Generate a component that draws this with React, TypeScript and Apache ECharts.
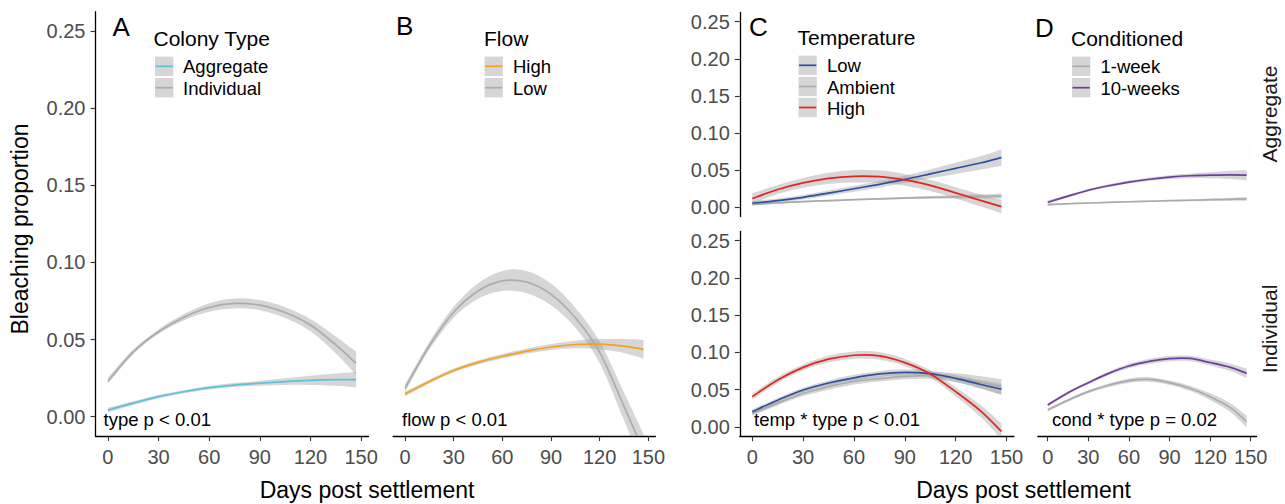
import React, { useEffect, useRef } from 'react';
import * as echarts from 'echarts';

const days = [0, 15, 30, 45, 60, 75, 90, 105, 120, 135, 147];
const xTicks = [0, 30, 60, 90, 120, 150];
const yTicks = [0, 0.05, 0.1, 0.15, 0.2, 0.25];

// Panel A: colony type
const aAggregate = [0.0043, 0.0088, 0.013, 0.0162, 0.0188, 0.0205, 0.0217, 0.0228, 0.0236, 0.024, 0.024];
const aAggregateSe = [0.0015, 0.0012, 0.001, 0.001, 0.0011, 0.0013, 0.0016, 0.0022, 0.003, 0.004, 0.005];
const aIndividual = [0.0231, 0.042, 0.0551, 0.0645, 0.0708, 0.0734, 0.0723, 0.0675, 0.0594, 0.0465, 0.0346];
const aIndividualSe = [0.002, 0.0015, 0.0015, 0.002, 0.0028, 0.0032, 0.0033, 0.0035, 0.004, 0.0055, 0.0075];

// Panel B: flow
const bHigh = [0.0147, 0.0228, 0.03, 0.0352, 0.0392, 0.0425, 0.0452, 0.0468, 0.047, 0.0458, 0.0437];
const bHighSe = [0.0015, 0.0012, 0.0012, 0.0013, 0.0015, 0.0017, 0.002, 0.0025, 0.0033, 0.0045, 0.006];
const bLow = [0.0184, 0.046, 0.0677, 0.0815, 0.088, 0.0873, 0.0793, 0.0641, 0.0417, 0.0067, -0.022];
const bLowSe = [0.0025, 0.0025, 0.0035, 0.005, 0.0065, 0.0072, 0.007, 0.0065, 0.007, 0.009, 0.011];

// Panel C: temperature, aggregate facet
const cLowAgg = [0.0055, 0.009, 0.0135, 0.019, 0.025, 0.031, 0.0376, 0.045, 0.0525, 0.06, 0.067];
const cLowAggSe = [0.003, 0.0028, 0.003, 0.0035, 0.004, 0.0045, 0.005, 0.006, 0.0075, 0.009, 0.011];
const cAmbAgg = [0.004, 0.006, 0.0077, 0.009, 0.0103, 0.0115, 0.0125, 0.0133, 0.0141, 0.0147, 0.0152];
const cAmbAggSe = [0.0015, 0.0012, 0.001, 0.001, 0.001, 0.0012, 0.0014, 0.0018, 0.0022, 0.0028, 0.0035];
const cHighAgg = [0.0118, 0.024, 0.033, 0.039, 0.0418, 0.0413, 0.037, 0.0295, 0.0195, 0.009, 0.001];
const cHighAggSe = [0.007, 0.006, 0.0065, 0.0075, 0.0085, 0.0085, 0.008, 0.0075, 0.0075, 0.008, 0.009];

// Panel C: temperature, individual facet
const cLowInd = [0.0206, 0.036, 0.0497, 0.059, 0.066, 0.0712, 0.0734, 0.0715, 0.0653, 0.057, 0.0506];
const cLowIndSe = [0.003, 0.003, 0.003, 0.0035, 0.004, 0.004, 0.004, 0.004, 0.0045, 0.006, 0.0075];
const cAmbInd = [0.018, 0.032, 0.045, 0.054, 0.061, 0.065, 0.068, 0.069, 0.066, 0.06, 0.054];
const cAmbIndSe = [0.003, 0.003, 0.0035, 0.004, 0.004, 0.004, 0.004, 0.0045, 0.006, 0.008, 0.01];
const cHighInd = [0.0407, 0.063, 0.08, 0.091, 0.0963, 0.0955, 0.0864, 0.0712, 0.0474, 0.021, -0.006];
const cHighIndSe = [0.004, 0.004, 0.004, 0.0045, 0.005, 0.005, 0.005, 0.005, 0.006, 0.008, 0.011];

// Panel D: conditioning, aggregate facet
const d1wAgg = [0.0037, 0.0048, 0.0058, 0.0067, 0.0075, 0.0082, 0.0089, 0.0095, 0.0102, 0.0108, 0.0114];
const d1wAggSe = [0.0012, 0.001, 0.0009, 0.0009, 0.0009, 0.001, 0.0011, 0.0013, 0.0016, 0.002, 0.0025];
const d10wAgg = [0.0068, 0.015, 0.023, 0.029, 0.034, 0.0378, 0.0407, 0.0425, 0.0433, 0.0436, 0.0434];
const d10wAggSe = [0.002, 0.0018, 0.0018, 0.002, 0.002, 0.0022, 0.0026, 0.0032, 0.004, 0.0055, 0.007];

// Panel D: conditioning, individual facet
const d1wInd = [0.0228, 0.036, 0.0474, 0.056, 0.0622, 0.0638, 0.0595, 0.052, 0.0407, 0.026, 0.0071];
const d1wIndSe = [0.002, 0.002, 0.002, 0.0025, 0.003, 0.003, 0.003, 0.0035, 0.0045, 0.006, 0.008];
const d10wInd = [0.0295, 0.046, 0.0595, 0.072, 0.0819, 0.088, 0.0918, 0.092, 0.0865, 0.08, 0.072];
const d10wIndSe = [0.002, 0.002, 0.002, 0.0025, 0.003, 0.0035, 0.0035, 0.0035, 0.004, 0.005, 0.0065];

const FONT = "'Liberation Sans', Arial, Helvetica, sans-serif";
const GREY = '#ababab';
const LIGHTBLUE = '#5bc1dd';
const ORANGE = '#f5a11c';
const BLUE = '#2f4fa3';
const RED = '#e8231f';
const PURPLE = '#6e3fa1';
const BAND = 'rgba(153,153,153,0.4)';

const grids = [
  { left: 95.5, top: 11.7, width: 273, height: 424.3 },
  { left: 393.1, top: 11.7, width: 262.3, height: 424.3 },
  { left: 739.8, top: 12.4, width: 274.1, height: 204.2 },
  { left: 739.8, top: 231.4, width: 274.1, height: 204.9 },
  { left: 1037.8, top: 12.4, width: 218.8, height: 204.2 },
  { left: 1037.8, top: 231.4, width: 218.8, height: 204.9 },
];
// [show x axis, show y axis]
const axisShow = [
  [true, true],
  [true, false],
  [false, true],
  [true, true],
  [false, false],
  [true, false],
];

// Catmull-Rom style cubic path through screen points
function curvePath(pts: number[][], start: boolean): string {
  const t = 1 / 6;
  let d = start ? `M${pts[0][0]},${pts[0][1]}` : `L${pts[0][0]},${pts[0][1]}`;
  const n = pts.length;
  for (let i = 0; i < n - 1; i++) {
    const p0 = pts[Math.max(i - 1, 0)];
    const p1 = pts[i];
    const p2 = pts[i + 1];
    const p3 = pts[Math.min(i + 2, n - 1)];
    const c1x = p1[0] + (p2[0] - p0[0]) * t;
    const c1y = p1[1] + (p2[1] - p0[1]) * t;
    const c2x = p2[0] - (p3[0] - p1[0]) * t;
    const c2y = p2[1] - (p3[1] - p1[1]) * t;
    d += `C${c1x},${c1y},${c2x},${c2y},${p2[0]},${p2[1]}`;
  }
  return d;
}

function buildOption() {
  const xAxis = grids.map((_, i) => ({
    gridIndex: i,
    type: 'value',
    min: -7.35,
    max: 154.35,
    axisLine: { show: axisShow[i][0], onZero: false, lineStyle: { color: '#000', width: 1.3 } },
    axisTick: { show: axisShow[i][0], length: 5, customValues: xTicks, lineStyle: { color: '#333', width: 1.1 } },
    axisLabel: {
      show: axisShow[i][0],
      customValues: xTicks,
      color: '#4d4d4d',
      fontSize: 20,
      fontFamily: FONT,
      margin: 11,
    },
    splitLine: { show: false },
  }));
  const yAxis = grids.map((_, i) => ({
    gridIndex: i,
    type: 'value',
    min: -0.0125,
    max: 0.2625,
    axisLine: { show: axisShow[i][1], onZero: false, lineStyle: { color: '#000', width: 1.3 } },
    axisTick: { show: axisShow[i][1], length: 5, customValues: yTicks, lineStyle: { color: '#333', width: 1.1 } },
    axisLabel: {
      show: axisShow[i][1],
      customValues: yTicks,
      color: '#4d4d4d',
      fontSize: 20,
      fontFamily: FONT,
      margin: 10,
      formatter: (v: number) => v.toFixed(2),
    },
    splitLine: { show: false },
  }));

  const bands: any[] = [];
  const lines: any[] = [];
  const add = (g: number, mid: number[], se: number[], color: string) => {
    const data = days.map((d, i) => [d, mid[i], mid[i] - se[i], mid[i] + se[i]]);
    bands.push({
      type: 'custom',
      coordinateSystem: 'cartesian2d',
      xAxisIndex: g,
      yAxisIndex: g,
      clip: true,
      silent: true,
      z: 1,
      data,
      encode: { x: 0, y: 1 },
      renderItem: (params: any, api: any) => {
        if (params.dataIndexInside !== 0) return null;
        const upper = data.map((p) => api.coord([p[0], p[3]]));
        const lower = data.map((p) => api.coord([p[0], p[2]])).reverse();
        const pathData = curvePath(upper, true) + curvePath(lower, false) + 'Z';
        return {
          type: 'path',
          shape: { pathData },
          style: { fill: BAND, stroke: null },
        };
      },
    });
    lines.push({
      type: 'custom',
      coordinateSystem: 'cartesian2d',
      xAxisIndex: g,
      yAxisIndex: g,
      clip: true,
      silent: true,
      z: 3,
      data,
      encode: { x: 0, y: 1 },
      renderItem: (params: any, api: any) => {
        if (params.dataIndexInside !== 0) return null;
        const pts = data.map((p) => api.coord([p[0], p[1]]));
        return {
          type: 'path',
          shape: { pathData: curvePath(pts, true) },
          style: { fill: null, stroke: color, lineWidth: 1.7 },
        };
      },
    });
  };

  add(0, aIndividual, aIndividualSe, GREY);
  add(0, aAggregate, aAggregateSe, LIGHTBLUE);
  add(1, bLow, bLowSe, GREY);
  add(1, bHigh, bHighSe, ORANGE);
  add(2, cAmbAgg, cAmbAggSe, GREY);
  add(2, cLowAgg, cLowAggSe, BLUE);
  add(2, cHighAgg, cHighAggSe, RED);
  add(3, cAmbInd, cAmbIndSe, GREY);
  add(3, cLowInd, cLowIndSe, BLUE);
  add(3, cHighInd, cHighIndSe, RED);
  add(4, d1wAgg, d1wAggSe, GREY);
  add(4, d10wAgg, d10wAggSe, PURPLE);
  add(5, d1wInd, d1wIndSe, GREY);
  add(5, d10wInd, d10wIndSe, PURPLE);

  const graphic: any[] = [];
  const txt = (
    text: string,
    x: number,
    y: number,
    size: number,
    opts: { align?: string; rotate?: boolean; color?: string } = {}
  ) => {
    graphic.push({
      type: 'text',
      x,
      y,
      rotation: opts.rotate ? Math.PI / 2 : 0,
      silent: true,
      z: 10,
      style: {
        text,
        x: 0,
        y: 0,
        fill: opts.color || '#000',
        fontSize: size,
        fontFamily: FONT,
        textAlign: opts.align || 'left',
        textVerticalAlign: 'middle',
        align: opts.align || 'left',
        verticalAlign: 'middle',
      },
    });
  };

  // panel letters
  txt('A', 112.5, 26.5, 26);
  txt('B', 396, 25.5, 26);
  txt('C', 749, 27, 26);
  txt('D', 1035, 28, 26);

  // legends
  const legend = (
    title: string,
    tx: number,
    ty: number,
    keyX: number,
    labelX: number,
    items: { label: string; color: string; y: number }[]
  ) => {
    txt(title, tx, ty, 21);
    items.forEach((it) => {
      graphic.push({
        type: 'rect',
        silent: true,
        z: 9,
        shape: { x: keyX, y: it.y - 9.7, width: 18.3, height: 19.4 },
        style: { fill: '#d6d6d6' },
      });
      graphic.push({
        type: 'line',
        silent: true,
        z: 10,
        shape: { x1: keyX + 0.5, y1: it.y, x2: keyX + 17.8, y2: it.y },
        style: { stroke: it.color, lineWidth: 1.7 },
      });
      txt(it.label, labelX, it.y + 0.5, 18.5);
    });
  };
  legend('Colony Type', 153.5, 38.5, 155, 183, [
    { label: 'Aggregate', color: LIGHTBLUE, y: 66.3 },
    { label: 'Individual', color: GREY, y: 87.7 },
  ]);
  legend('Flow', 484, 38.5, 484.5, 513, [
    { label: 'High', color: ORANGE, y: 66.3 },
    { label: 'Low', color: GREY, y: 87.7 },
  ]);
  legend('Temperature', 797.5, 37, 798.5, 827, [
    { label: 'Low', color: BLUE, y: 65.3 },
    { label: 'Ambient', color: GREY, y: 86.5 },
    { label: 'High', color: RED, y: 107.5 },
  ]);
  legend('Conditioned', 1071, 38.5, 1072, 1100.5, [
    { label: '1-week', color: GREY, y: 66.3 },
    { label: '10-weeks', color: PURPLE, y: 87.7 },
  ]);

  // annotations
  txt('type p < 0.01', 103.5, 419, 18.5);
  txt('flow p < 0.01', 402, 419, 18.5);
  txt('temp * type p < 0.01', 754, 419, 18.5);
  txt('cond * type p = 0.02', 1052, 419, 18.5);

  // axis titles
  txt('Days post settlement', 367, 490, 23, { align: 'center' });
  txt('Days post settlement', 1023.5, 490, 23, { align: 'center' });
  txt('Bleaching proportion', 20, 229, 23, { align: 'center', rotate: true });

  // facet strips
  txt('Aggregate', 1269, 114, 21, { align: 'center', rotate: true, color: '#1a1a1a' });
  txt('Individual', 1269, 329, 21, { align: 'center', rotate: true, color: '#1a1a1a' });

  return {
    animation: false,
    backgroundColor: '#ffffff',
    grid: grids.map((g) => ({ ...g, outerBoundsMode: 'none', containLabel: false })),
    xAxis,
    yAxis,
    series: [...bands, ...lines],
    graphic,
  };
}

export default function App() {
  const ref = useRef<HTMLDivElement>(null);
  useEffect(() => {
    if (!ref.current) return;
    const chart = echarts.init(ref.current, undefined, { renderer: 'svg' });
    chart.setOption(buildOption() as any);
    return () => chart.dispose();
  }, []);
  return (
    <div
      ref={ref}
      style={{ position: 'fixed', left: 0, top: 0, width: 1285, height: 504, background: '#fff' }}
    />
  );
}
